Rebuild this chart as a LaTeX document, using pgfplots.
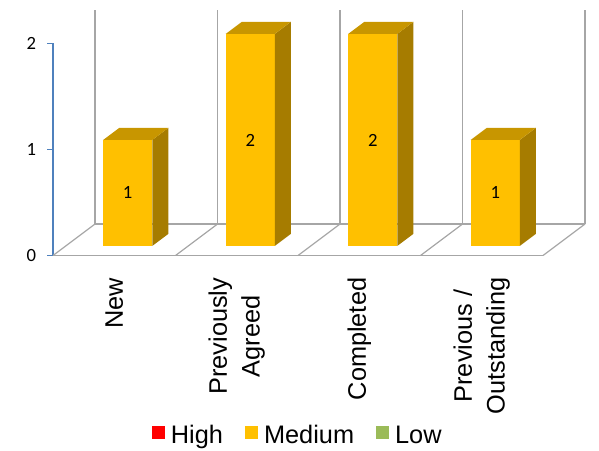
\documentclass[border=0pt]{standalone}
\usepackage{fontspec}
\setmainfont{Liberation Sans}
\newfontfamily\carlito{Carlito}
\usepackage{pgfplots}
\usepackage{pgfplotstable}
\pgfplotsset{compat=1.18}

\definecolor{barfront}{HTML}{FFC000}
\definecolor{bartop}{HTML}{C89600}
\definecolor{barside}{HTML}{A67C00}
\definecolor{gridgray}{HTML}{A6A6A6}
\definecolor{axisblue}{HTML}{4F81BD}
\definecolor{lowgreen}{HTML}{9BBB59}

% Medium-priority counts per category
\pgfplotstableread{
cat value
0   1
1   2
2   2
3   1
}\mediumdata

% One unit of value is 79.5pt tall; the box is drawn from its front-bottom centre
\pgfdeclareplotmark{cuboid}{%
  \pgfmathsetlengthmacro\barh{\barval*79.5pt}%
  \pgfsetfillcolor{barfront}%
  \pgfpathrectangle{\pgfpoint{-18.4pt}{0pt}}{\pgfpoint{36.8pt}{\barh}}%
  \pgfusepath{fill}%
  \pgfsetfillcolor{barside}%
  \pgfpathmoveto{\pgfpoint{18.4pt}{0pt}}%
  \pgfpathlineto{\pgfpoint{30.4pt}{9pt}}%
  \pgfpathlineto{\pgfpoint{30.4pt}{\barh+9pt}}%
  \pgfpathlineto{\pgfpoint{18.4pt}{\barh}}%
  \pgfpathclose
  \pgfusepath{fill}%
  \pgfsetfillcolor{bartop}%
  \pgfpathmoveto{\pgfpoint{-18.4pt}{\barh}}%
  \pgfpathlineto{\pgfpoint{18.4pt}{\barh}}%
  \pgfpathlineto{\pgfpoint{30.4pt}{\barh+9pt}}%
  \pgfpathlineto{\pgfpoint{-6.4pt}{\barh+9pt}}%
  \pgfpathclose
  \pgfusepath{fill}%
  \pgftext[at=\pgfpoint{0pt}{0.5*\barh}]{\color{black}\carlito\fontsize{14}{16}\selectfont
    \pgfmathprintnumber[assume math mode=true]{\barval}}%
}

\begin{document}
\begin{tikzpicture}
\begin{axis}[
  x=91.875pt, y=79.5pt,
  xmin=-0.5, xmax=3.5, ymin=0, ymax=2,
  clip=false,
  axis lines=left,
  axis line style={-},
  x axis line style={-, draw=gridgray, line width=0.9pt},
  y axis line style={-, draw=axisblue, line width=1.1pt},
  xtick={0,1,2,3},
  xticklabels={New,{Previously\\Agreed},Completed,{Previous /\\Outstanding}},
  x tick style={draw=none},
  xticklabel style={rotate=90, anchor=east, align=center, inner sep=0pt,
    font=\fontsize{19}{24.5}\selectfont},
  xticklabel shift=12pt,
  ytick={0,1,2},
  yticklabels={0,1,2},
  y tick style={draw=axisblue, line width=1.1pt},
  tick align=outside,
  major tick length=4.5pt,
  yticklabel style={font=\carlito\fontsize{14}{16}\selectfont, inner sep=0pt, xshift=-8pt},
  legend columns=3,
  legend style={at={(axis cs:1.49,-1.7)}, anchor=center, draw=none, fill=none,
    font=\fontsize{19}{23}\selectfont,
    nodes={inner sep=0pt},
    /tikz/every odd column/.append style={column sep=4.5pt},
    /tikz/every even column/.append style={column sep=16.5pt}},
  legend image code/.code={\fill[#1, draw=none] (0pt,-2.3pt) rectangle (9.75pt,7.45pt);},
]
% floor: category dividers and back edge
\addplot[gridgray, line width=0.9pt, forget plot] coordinates {(-0.5,0) (-0.157,0.297)};
\addplot[gridgray, line width=0.9pt, forget plot] coordinates {(0.5,0) (0.843,0.297)};
\addplot[gridgray, line width=0.9pt, forget plot] coordinates {(1.5,0) (1.843,0.297)};
\addplot[gridgray, line width=0.9pt, forget plot] coordinates {(2.5,0) (2.843,0.297)};
\addplot[gridgray, line width=0.9pt, forget plot] coordinates {(3.5,0) (3.843,0.297)};
\addplot[gridgray, line width=0.9pt, forget plot] coordinates {(-0.157,0.297) (3.843,0.297)};
% back wall gridlines
\addplot[gridgray, line width=0.9pt, forget plot] coordinates {(-0.157,0.297) (-0.157,2.316)};
\addplot[gridgray, line width=0.9pt, forget plot] coordinates {(0.843,0.297) (0.843,2.316)};
\addplot[gridgray, line width=0.9pt, forget plot] coordinates {(1.843,0.297) (1.843,2.316)};
\addplot[gridgray, line width=0.9pt, forget plot] coordinates {(2.843,0.297) (2.843,2.316)};
\addplot[gridgray, line width=0.9pt, forget plot] coordinates {(3.843,0.297) (3.843,2.316)};
% Medium bars
\addplot[only marks, mark=cuboid, forget plot,
  visualization depends on={\thisrow{value}\as\barval}]
  table[x expr=\thisrow{cat}+0.11, y expr=0.09] {\mediumdata};
\addlegendimage{fill=red}
\addlegendentry{High}
\addlegendimage{fill=barfront}
\addlegendentry{Medium}
\addlegendimage{fill=lowgreen}
\addlegendentry{Low}
\coordinate (bbsw) at (axis cs:-0.9327,-1.8443);
\coordinate (bbne) at (axis cs:3.9571,2.4104);
\end{axis}
\pgfresetboundingbox
\path[use as bounding box] (bbsw) rectangle (bbne);
\end{tikzpicture}
\end{document}
